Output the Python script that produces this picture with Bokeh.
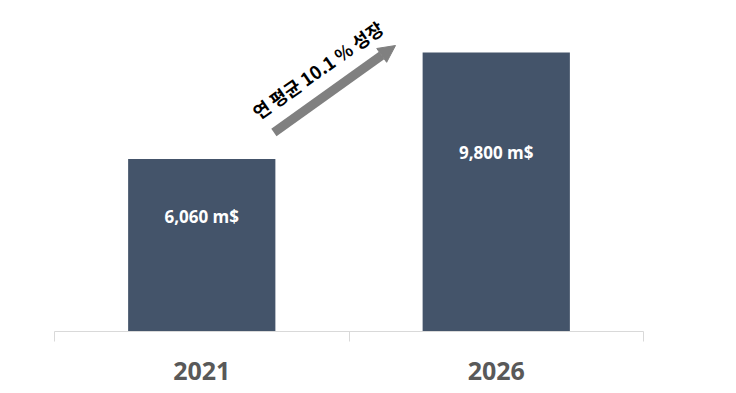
from bokeh.plotting import figure
from bokeh.models import ColumnDataSource, FixedTicker, Range1d, Arrow, NormalHead, Label
from bokeh.core.properties import value
from bokeh.embed import file_html
from bokeh.resources import INLINE

years = ["2021", "2026"]
sales = [6060, 9800]
bar_labels = ["6,060 m$", "9,800 m$"]
growth_text = "연 평균 10.1 % 성장"

xs = [i + 0.5 for i in range(len(years))]
label_frac = [0.665, 0.64]
src = ColumnDataSource(dict(
    x=xs, top=sales, lab=bar_labels,
    ly=[v * f for v, f in zip(sales, label_frac)],
))

p = figure(width=720, height=385, output_backend="svg", toolbar_location=None,
           x_range=Range1d(0, len(years)), y_range=Range1d(0, 11346),
           y_axis_location=None, min_border_left=54, min_border_right=77,
           min_border_top=8, min_border_bottom=54)
p.outline_line_color = None
p.xgrid.visible = False
p.ygrid.visible = False
p.background_fill_color = "white"

p.vbar(x="x", top="top", width=0.5, bottom=0, source=src,
       fill_color="#44546a", line_color=None)
p.text(x="x", y="ly", text="lab", source=src, text_color="white",
       text_font=value("Open Sans"), text_font_style="bold", text_font_size="17px",
       text_align="center", text_baseline="middle")

ax = p.xaxis[0]
ax.ticker = FixedTicker(ticks=xs, minor_ticks=[0, 1, 2])
ax.major_label_overrides = {x: y for x, y in zip(xs, years)}
ax.major_tick_out = 0
ax.major_tick_in = 0
ax.minor_tick_out = 10
ax.minor_tick_in = 0
ax.minor_tick_line_color = "#d9d9d9"
ax.axis_line_color = "#d9d9d9"
ax.major_label_text_font = "Open Sans"
ax.major_label_text_font_style = "bold"
ax.major_label_text_font_size = "25px"
ax.major_label_text_color = "#595959"
ax.major_label_standoff = 20

p.add_layout(Arrow(x_start=0.745, y_start=6990, x_end=1.158, y_end=10046,
                   line_color="#808080", line_width=9,
                   end=NormalHead(size=17, fill_color="#808080", line_color="#808080")))
p.add_layout(Label(x=0.893, y=9200, text=growth_text, angle=35, angle_units="deg",
                   text_font="Noto Sans CJK KR", text_font_style="bold",
                   text_font_size="18px", text_color="black",
                   text_align="center", text_baseline="middle"))

open("out.html", "w").write(file_html(p, INLINE))
